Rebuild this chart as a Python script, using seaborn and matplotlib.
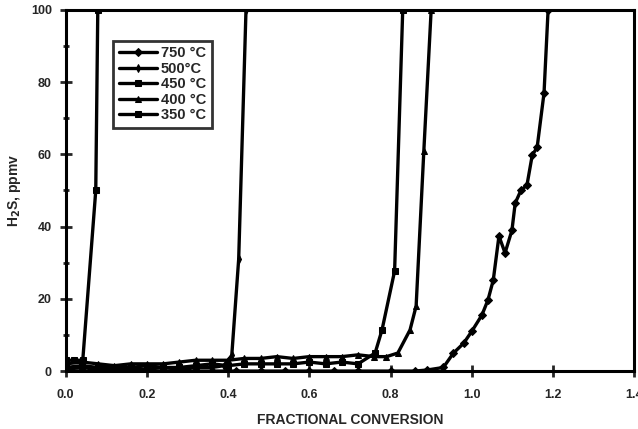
import matplotlib
matplotlib.use("Agg")
import matplotlib.pyplot as plt
import seaborn as sns
import pandas as pd
from matplotlib.ticker import MultipleLocator

# ---- data ----
x_350 = [0.0, 0.02, 0.042, 0.074, 0.079]
y_350 = [3.0, 3.0, 3.0, 50.0, 100.0]

x_500 = [0.0, 0.04, 0.08, 0.12, 0.16, 0.20, 0.24, 0.28, 0.32, 0.36, 0.39, 0.409, 0.426, 0.444]
y_500 = [0.5, 1.0, 0.5, 0.5, 0.5, 0.5, 1.0, 0.5, 1.0, 1.0, 1.5, 4.4, 31.0, 100.0]

x_450 = [0.0, 0.04, 0.08, 0.12, 0.16, 0.20, 0.24, 0.28, 0.32, 0.36, 0.40, 0.44, 0.48, 0.52,
         0.56, 0.60, 0.64, 0.68, 0.72, 0.762, 0.779, 0.81, 0.83]
y_450 = [1.0, 1.5, 1.0, 1.0, 1.0, 1.5, 1.0, 1.0, 1.5, 2.0, 1.5, 2.0, 2.0, 2.0,
         2.0, 2.5, 2.0, 2.5, 2.0, 5.0, 11.4, 27.7, 100.0]

x_400 = [0.0, 0.04, 0.08, 0.12, 0.16, 0.20, 0.24, 0.28, 0.32, 0.36, 0.40, 0.44, 0.48, 0.52,
         0.56, 0.60, 0.64, 0.68, 0.72, 0.76, 0.79, 0.818, 0.848, 0.863, 0.882, 0.90]
y_400 = [2.0, 2.5, 2.0, 1.5, 2.0, 2.0, 2.0, 2.5, 3.0, 3.0, 3.0, 3.5, 3.5, 4.0,
         3.5, 4.0, 4.0, 4.0, 4.5, 4.0, 4.0, 5.0, 11.4, 18.0, 61.0, 100.0]

x_750 = [0.0, 0.06, 0.12, 0.18, 0.24, 0.30, 0.36, 0.42, 0.48, 0.54, 0.60, 0.66, 0.72, 0.80,
         0.86, 0.89, 0.93, 0.955, 0.98, 1.0, 1.025, 1.04, 1.053, 1.067, 1.082, 1.099,
         1.107, 1.121, 1.136, 1.149, 1.161, 1.178, 1.188]
y_750 = [0.0, 0.0, 0.0, 0.0, 0.0, 0.0, 0.0, 0.0, 0.0, 0.0, 0.0, 0.0, 0.0, 0.0,
         0.0, 0.3, 1.0, 5.0, 7.7, 11.0, 15.5, 19.7, 25.2, 37.4, 32.7, 39.0,
         46.5, 50.0, 51.5, 59.8, 61.9, 77.0, 100.0]

series_labels = ["750 °C", "500°C", "450 °C", "400 °C", "350 °C"]
x_ticks = [0.0, 0.2, 0.4, 0.6, 0.8, 1.0, 1.2, 1.4]
y_ticks = [0, 20, 40, 60, 80, 100]

frames = []
for lab, xs, ys in zip(series_labels,
                       [x_750, x_500, x_450, x_400, x_350],
                       [y_750, y_500, y_450, y_400, y_350]):
    frames.append(pd.DataFrame({"x": xs, "y": ys, "series": lab, "order": range(len(xs))}))
df = pd.concat(frames, ignore_index=True)

sns.set_style("ticks")
plt.rcParams["font.family"] = ["Liberation Sans", "DejaVu Sans"]
plt.rcParams["font.weight"] = "bold"

fig = plt.figure(figsize=(6.38, 4.29), dpi=100)
ax = fig.add_axes([0.103, 0.135, 0.891, 0.842])

markers = {"750 °C": "D", "500°C": "d", "450 °C": "s", "400 °C": "^", "350 °C": "s"}
sns.lineplot(data=df, x="x", y="y", style="series", style_order=series_labels,
             markers=markers, dashes=False, color="black", sort=False,
             linewidth=2.4, markersize=4, markeredgecolor="black", ax=ax,
             estimator=None, units=None)

ax.set_xlim(0, 1.4)
ax.set_ylim(0, 100)
ax.set_xticks(x_ticks)
ax.set_xticklabels([f"{t:.1f}" for t in x_ticks])
ax.set_yticks(y_ticks)
ax.yaxis.set_minor_locator(MultipleLocator(10))
ax.tick_params(axis="both", which="major", direction="inout", length=8, width=2,
               labelsize=9, pad=6)
ax.tick_params(axis="x", which="major", pad=9)
ax.tick_params(axis="y", which="minor", direction="inout", length=5, width=2)
for lbl in ax.get_xticklabels() + ax.get_yticklabels():
    lbl.set_fontweight("bold")
for sp in ax.spines.values():
    sp.set_linewidth(2.2)
    sp.set_color("black")

ax.set_xlabel("FRACTIONAL CONVERSION", fontsize=10, fontweight="bold")
ax.set_ylabel("H$_\\mathbf{2}$S, ppmv", fontsize=10, fontweight="bold")
ax.xaxis.set_label_coords(0.5, -0.117)
ax.yaxis.set_label_coords(-0.075, 0.5)

leg = ax.legend(loc="upper left", bbox_to_anchor=(0.083, 0.915), frameon=True,
                fancybox=False, fontsize=10.5, handlelength=2.6, borderpad=0.4,
                labelspacing=0.1, handletextpad=0.3, borderaxespad=0)
leg.get_frame().set_edgecolor("black")
leg.get_frame().set_linewidth(2)
for t in leg.get_texts():
    t.set_fontweight("bold")

fig.savefig("out.png", dpi=100)
